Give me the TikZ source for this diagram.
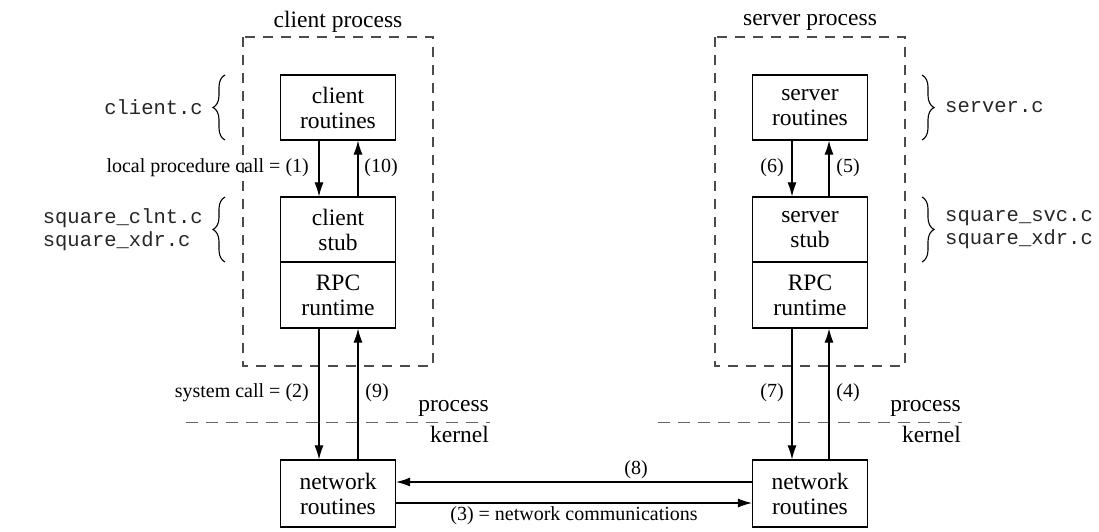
\documentclass[tikz,border=0pt]{standalone}
\usepackage{fontspec}
\setmainfont{Liberation Serif}
\setmonofont{Liberation Mono}
\usetikzlibrary{arrows.meta,decorations.pathreplacing}
\newcommand{\boxfont}{\fontsize{23.5}{25}\selectfont}
\newcommand{\lblfont}{\fontsize{20}{22}\selectfont}
\newcommand{\codefont}{\fontsize{20.5}{23}\selectfont\ttfamily}
\begin{document}
\begin{tikzpicture}[x=1pt,y=-1pt,
  blk/.style={draw, line width=1.2pt, minimum width=115pt, inner sep=0pt, align=center, font=\boxfont},
  arr/.style={line width=1.1pt, -{Latex[length=14pt,width=9pt]}},
  procbox/.style={draw=black!70, line width=1.1pt, dash pattern=on 10pt off 8pt},
  sepline/.style={draw=black!60, line width=1pt, dash pattern=on 12pt off 8pt},
  brc/.style={draw, line width=1.1pt, decorate, decoration={brace, amplitude=12pt}},
  lbl/.style={font=\lblfont, inner sep=0pt},
  code/.style={font=\codefont, text=black!85, inner sep=0pt, align=left}
]
\useasboundingbox (0,0) rectangle (1099,531);
% dashed process boxes
\draw[procbox] (243,37) rectangle (433,366);
\draw[procbox] (715,37) rectangle (905,366);
\node[font=\boxfont, inner sep=0pt] (ctitle) at (338,22) {client process};
\node[font=\boxfont, inner sep=0pt] (stitle) at (810,22) {server process};
% separators
\draw[sepline] (186,422) -- (490,422);
\draw[sepline] (658,422) -- (962,422);
\node[font=\boxfont, inner sep=0pt, anchor=east] (cproc) at (489,408) {process};
\node[font=\boxfont, inner sep=0pt, anchor=east] (ckern) at (489,434) {kernel};
\node[font=\boxfont, inner sep=0pt, anchor=east] (sproc) at (961,408) {process};
\node[font=\boxfont, inner sep=0pt, anchor=east] (skern) at (961,434) {kernel};
% client boxes
\node[blk, minimum height=65pt] (cr) at (338,107.5) {client\\routines};
\node[blk, minimum height=65pt] (cs) at (338,229.5) {client\\stub};
\node[blk, minimum height=66pt] (crpc) at (338,295) {RPC\\runtime};
\node[blk, minimum height=67pt] (cnet) at (338,493.5) {network\\routines};
% server boxes
\node[blk, minimum height=65pt] (sr) at (810,107.5) {server\\routines};
\node[blk, minimum height=65pt] (ss) at (810,229.5) {server\\stub};
\node[blk, minimum height=66pt] (srpc) at (810,295) {RPC\\runtime};
\node[blk, minimum height=67pt] (snet) at (810,493.5) {network\\routines};
% client arrows
\draw[arr] ([xshift=-19pt]cr.south) -- ([xshift=-19pt]cs.north);
\draw[arr] ([xshift=20pt]cs.north) -- ([xshift=20pt]cr.south);
\draw[arr] ([xshift=-19pt]crpc.south) -- ([xshift=-19pt]cnet.north);
\draw[arr] ([xshift=20pt]cnet.north) -- ([xshift=20pt]crpc.south);
% server arrows
\draw[arr] ([xshift=-18pt]sr.south) -- ([xshift=-18pt]ss.north);
\draw[arr] ([xshift=19pt]ss.north) -- ([xshift=19pt]sr.south);
\draw[arr] ([xshift=-18pt]srpc.south) -- ([xshift=-18pt]snet.north);
\draw[arr] ([xshift=19pt]snet.north) -- ([xshift=19pt]srpc.south);
% network arrows
\draw[arr] ([yshift=11.5pt]snet.west) -- ([yshift=11.5pt]cnet.east);
\draw[arr] ([yshift=-9.5pt]cnet.east) -- ([yshift=-9.5pt]snet.west);
% labels
\node[lbl, anchor=east] (l1) at (309,168) {local procedure call = (1)};
\node[lbl] (l10) at (381,168) {(10)};
\node[lbl] (l6) at (772,168) {(6)};
\node[lbl] (l5) at (848,168) {(5)};
\node[lbl, anchor=east] (l2) at (309,393) {system call = (2)};
\node[lbl] (l9) at (377,393) {(9)};
\node[lbl] (l7) at (772,393) {(7)};
\node[lbl] (l4) at (848,393) {(4)};
\node[lbl] (l8) at (636,470) {(8)};
\node[lbl] (l3) at (574,516) {(3) = network communications};
% braces and code labels
\draw[brc] (225,140) -- (225,75);
\draw[brc] (225,262) -- (225,197);
\draw[brc] (922,75) -- (922,140);
\draw[brc] (922,197) -- (922,262);
\node[code, anchor=east] (cc) at (203,107.5) {client.c};
\node[code, anchor=east] (csq) at (203,229.5) {square\_clnt.c\\square\_xdr.c};
\node[code, anchor=west] (sc) at (945,107.5) {server.c};
\node[code, anchor=west] (ssq) at (945,229.5) {square\_svc.c\\square\_xdr.c};
\end{tikzpicture}
\end{document}
